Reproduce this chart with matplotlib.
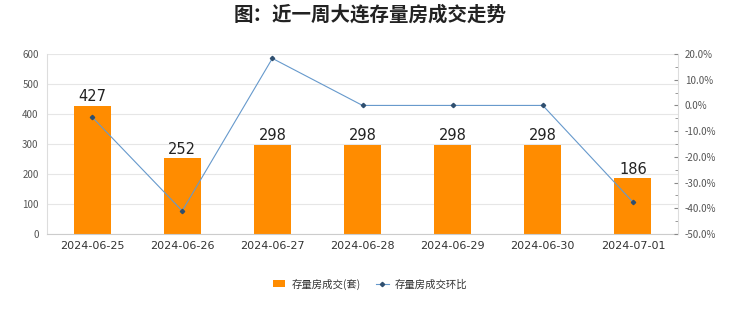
import matplotlib
matplotlib.use("Agg")
import matplotlib.pyplot as plt
from matplotlib.ticker import FuncFormatter, MultipleLocator

plt.rcParams['font.family'] = ['Noto Sans CJK SC', 'DejaVu Sans']

dates = ["2024-06-25", "2024-06-26", "2024-06-27", "2024-06-28", "2024-06-29", "2024-06-30", "2024-07-01"]
volume = [427, 252, 298, 298, 298, 298, 186]
change_pct = [-4.5, -41.0, 18.3, 0.0, 0.0, 0.0, -37.6]
title = "图：近一周大连存量房成交走势"
bar_label = "存量房成交(套)"
line_label = "存量房成交环比"

fig = plt.figure(figsize=(7.4, 3.12), dpi=100)
ax = fig.add_axes([47/740, 1-234/312, (678-47)/740, 180/312])
ax2 = ax.twinx()

x = list(range(len(dates)))
bars = ax.bar(x, volume, width=0.41, color="#FF8C00", label=bar_label, zorder=2)
for xi, v in zip(x, volume):
    ax.text(xi, v + 5, str(v), ha="center", va="bottom", fontsize=10.5, color="#222222",
            family="DejaVu Sans")

ax.set_ylim(0, 600)
ax.set_yticks(range(0, 601, 100))
ax.set_xlim(-0.5, len(dates) - 0.5)
ax.set_xticks(x)
ax.set_xticklabels(dates, fontsize=8, color="#333333", family="DejaVu Sans")
ax.tick_params(axis="x", length=0, pad=5)
ax.tick_params(axis="y", length=0, labelsize=7, labelcolor="#555555", pad=6)
ax.grid(axis="y", color="#e6e6e6", linewidth=0.8, zorder=0)
ax.set_axisbelow(True)
for s in ["top", "right"]:
    ax.spines[s].set_visible(False)
ax.spines["left"].set_color("#dddddd")
ax.spines["bottom"].set_color("#cccccc")

ln, = ax2.plot(x, change_pct, color="#6699CC", linewidth=0.8, marker="D", markersize=2.2,
               markerfacecolor="#2F4F6F", markeredgecolor="#2F4F6F", label=line_label, zorder=3)
ax2.set_ylim(-50, 20)
ax2.yaxis.set_major_locator(MultipleLocator(10))
ax2.yaxis.set_minor_locator(MultipleLocator(5))
ax2.yaxis.set_major_formatter(FuncFormatter(lambda v, p: f"{v:.1f}%"))
ax2.tick_params(axis="y", which="major", length=3, direction="in", color="#888888",
                labelsize=7, labelcolor="#555555", pad=5)
ax2.tick_params(axis="y", which="minor", length=2, direction="in", color="#888888")
for s in ["top", "left", "bottom"]:
    ax2.spines[s].set_visible(False)
ax2.spines["right"].set_color("#dddddd")

fig.text(0.5, 1 - 15/312, title, ha="center", va="center", fontsize=14, fontweight="bold", color="#222222")

fig.legend(handles=[bars, ln], labels=[bar_label, line_label], loc="center",
           bbox_to_anchor=(0.5, 1 - 284/312), ncol=2, frameon=False, fontsize=7.5,
           handlelength=1.2, handletextpad=0.6, columnspacing=1.5, labelcolor="#333333")

fig.savefig("out.png", dpi=100, facecolor="white")
